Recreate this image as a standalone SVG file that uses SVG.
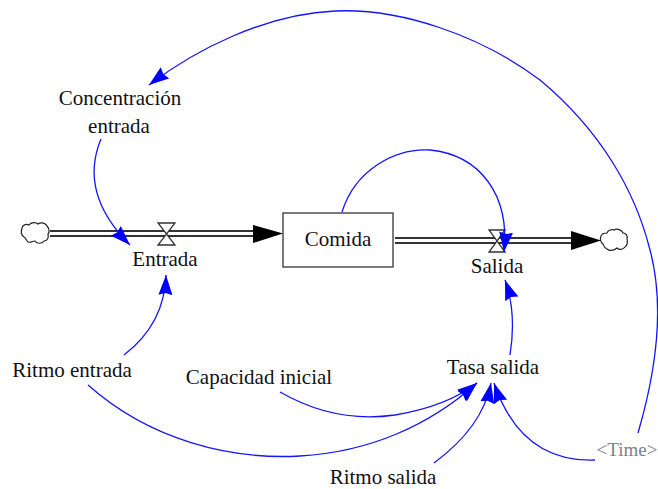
<svg xmlns="http://www.w3.org/2000/svg" width="658" height="489" viewBox="0 0 658 489">
<style>
text{font-family:"Liberation Serif","Times New Roman",serif;font-size:21px;fill:#111;text-anchor:middle}
.link{fill:none;stroke:#1414ff;stroke-width:1.3;marker-end:url(#ah)}
.pipe{stroke:#333;stroke-width:2;fill:none}
.cloud{fill:#fff;stroke:#222;stroke-width:1.2}
.valve{fill:#fff;stroke:#333;stroke-width:1.3}
</style>
<defs>
<marker id="ah" markerUnits="userSpaceOnUse" markerWidth="22" markerHeight="16" refX="20" refY="8" orient="auto"><polygon points="0,1 20,8 0,15 2,8" fill="#0000ff"/></marker>
</defs>
<rect width="658" height="489" fill="#fff"/>
<g id="source-cloud"><path class="cloud" d="M22 228C23 224 27 224 29 225C31 222 36 222 38 224C41 222 46 223 47 226C49 228 50 232 48 234C49 238 47 241 44 241C42 244 37 244 35 241C32 241 31 243 28 242C26 240 26 238 24 237C21 235 21 231 22 228Z"/></g>
<g id="sink-cloud"><path class="cloud" d="M601 236C602 233 605 233 607 233C608 230 612 229 614 230C617 228 622 230 623 233C626 233 628 236 627 239C628 242 627 246 625 247C623 250 619 250 617 248C614 251 609 251 607 249C604 248 604 246 603 244C600 242 600 238 601 236Z"/></g>
<g id="comida"><rect x="283" y="213" width="110" height="54" fill="#fff" stroke="#333" stroke-width="1.300"/><text x="338" y="246">Comida</text></g>
<g id="entrada"><polygon class="valve" points="158,223 175,223 158,245 175,245"/><text x="165" y="266">Entrada</text></g>
<g id="salida"><polygon class="valve" points="489,230 505,230 489,252 505,252"/><text x="497" y="273">Salida</text></g>
<g id="concentracion"><text x="120" y="105">Concentración</text><text x="119" y="133">entrada</text></g>
<g id="ritmo-entrada"><text x="72" y="377">Ritmo entrada</text></g>
<g id="capacidad"><text x="259" y="384">Capacidad inicial</text></g>
<g id="tasa-salida"><text x="493" y="374">Tasa salida</text></g>
<g id="ritmo-salida"><text x="383" y="484">Ritmo salida</text></g>
<g id="time"><text x="627" y="456" style="fill:#808080;font-size:19px">&lt;Time&gt;</text></g>
<g id="connectors">
<path class="pipe" d="M50 231H164M169 231H255M50 236H165M168 236H255"/>
<polygon points="253,225 283,233.500 253,243" fill="#000"/>
<path class="pipe" d="M395 238H495M499 238H572M395 243H495.500M498.500 243H572"/>
<polygon points="571,231 601,240.500 571,250" fill="#000"/>
<path class="link" d="M638 433C655 375 666 310 650 250C635 190 600 130 540 80C480 35 400 8 335 11C265 14 195 50 149 85"/>
<path class="link" d="M101 139C86 175 95 210 130 245"/>
<path class="link" d="M342 212C355 170 395 148 430 150C480 155 510 195 504 252"/>
<path class="link" d="M124 355C150 335 165 310 166 275"/>
<path class="link" d="M88 385C150 440 230 460 300 456C370 452 430 425 477 383"/>
<path class="link" d="M280 392C320 415 360 420 395 415C425 410 455 400 477 383"/>
<path class="link" d="M434 463C465 440 485 415 491 383"/>
<path class="link" d="M595 460C540 462 510 430 494 383"/>
<path class="link" d="M510 355C514 330 514 305 505 280"/>
</g>
</svg>
